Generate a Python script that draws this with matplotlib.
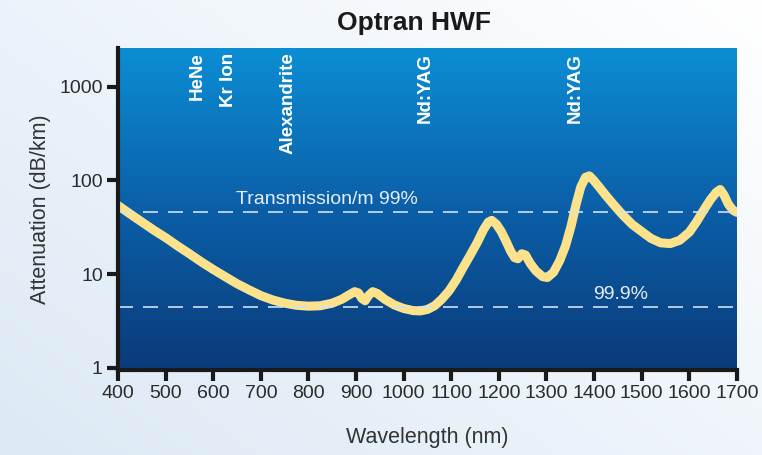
import numpy as np
import matplotlib
matplotlib.use("Agg")
import matplotlib.pyplot as plt
from matplotlib.colors import LinearSegmentedColormap

# ---- data ----
wavelength_nm = [400, 425, 450, 475, 500, 525, 550, 575, 600, 625, 650, 675, 700,
                 725, 750, 775, 800, 825, 850, 870, 885, 897, 905, 912, 919, 926,
                 935, 945, 960, 980, 1000, 1020, 1035, 1050, 1065, 1080, 1095,
                 1110, 1125, 1140, 1155, 1168, 1178, 1185, 1195, 1205, 1215, 1225,
                 1233, 1240, 1248, 1256, 1266, 1278, 1292, 1302, 1315, 1328, 1340,
                 1352, 1362, 1372, 1382, 1390, 1398, 1410, 1425, 1440, 1460, 1480,
                 1500, 1520, 1540, 1560, 1580, 1600, 1615, 1630, 1645, 1657, 1665,
                 1673, 1682, 1692, 1700]
attenuation = [54, 44, 36, 29.5, 24.5, 20, 16.5, 13.5, 11.2, 9.4, 7.9, 6.8, 5.9,
               5.3, 4.9, 4.65, 4.55, 4.6, 4.9, 5.4, 6.0, 6.5, 6.3, 5.5, 5.2, 5.9,
               6.5, 6.2, 5.4, 4.7, 4.3, 4.08, 4.05, 4.2, 4.6, 5.4, 6.6,
               8.6, 11.8, 16, 22, 30, 36, 37.5, 34, 28.5, 22.5, 17.5,
               15, 14.6, 16.5, 16, 13, 10.8, 9.4, 9.2, 10.5, 14, 20,
               33, 55, 85, 108, 112, 102, 86, 69, 56, 43, 34,
               28.5, 24, 21.6, 21.2, 23, 28, 36, 48, 63, 75, 80,
               70, 56, 48, 45.6]
x_ticks = [400, 500, 600, 700, 800, 900, 1000, 1100, 1200, 1300, 1400, 1500, 1600, 1700]
y_ticks = [1, 10, 100, 1000]
y_tick_labels = ["1", "10", "100", "1000"]
laser_names = ["HeNe", "Kr Ion", "Alexandrite", "Nd:YAG", "Nd:YAG"]
laser_nm = [566, 631, 757, 1045, 1360]
level_99 = 46
level_999 = 4.5

FONT = ["Liberation Sans", "DejaVu Sans"]
plt.rcParams['font.family'] = FONT

fig = plt.figure(figsize=(7.62, 4.55), dpi=100)

# figure background gradient
bg = fig.add_axes([0, 0, 1, 1], zorder=-10)
gx = np.linspace(0, 1, 200)
gy = np.linspace(0, 1, 200)
GX, GY = np.meshgrid(gx, gy)
g = np.clip(0.55 * GX + 0.45 * GY, 0, 1)
bg_cmap = LinearSegmentedColormap.from_list("bg", ["#dce9f5", "#ffffff"])
bg.imshow(g, cmap=bg_cmap, extent=[0, 1, 0, 1], origin="lower", aspect="auto")
bg.axis("off")

ax = fig.add_axes([0.155, 0.187, 0.812, 0.7077])
ax.set_yscale("log")
ax.set_xlim(400, 1700)
ax.set_ylim(0.95, 2600)

# axes background gradient
grad = np.linspace(0, 1, 256).reshape(-1, 1)
ax_cmap = LinearSegmentedColormap.from_list("ax", ["#0a3b7a", "#0b5fa8", "#0c8ed4"])
ax.imshow(grad, cmap=ax_cmap, extent=[0, 1, 0, 1], origin="lower",
          aspect="auto", transform=ax.transAxes, zorder=0)

ax.plot(wavelength_nm, attenuation, color="#fde28c", lw=6.5,
        solid_joinstyle="round", solid_capstyle="round", zorder=3)

for lvl in (level_99, level_999):
    ax.axhline(lvl, color="#cfe2f3", lw=1.2, dashes=(9, 6), zorder=4)

ax.text(647, level_99 * 1.10, "Transmission/m 99%", color="#e6eef7",
        fontsize=14, ha="left", va="bottom", zorder=5)
ax.text(1397, level_999 * 1.10, "99.9%", color="#e6eef7",
        fontsize=14, ha="left", va="bottom", zorder=5)

for name, nm in zip(laser_names, laser_nm):
    ax.text(nm, 0.985, name, color="white", rotation=90, fontsize=13.5,
            fontweight="bold", ha="center", va="top",
            transform=ax.get_xaxis_transform(), zorder=5)

ax.set_xticks(x_ticks)
ax.set_xticklabels([str(t) for t in x_ticks])
ax.set_yticks(y_ticks)
ax.set_yticklabels(y_tick_labels)
ax.yaxis.set_minor_locator(matplotlib.ticker.NullLocator())

for s in ("top", "right"):
    ax.spines[s].set_visible(False)
for s in ("left", "bottom"):
    ax.spines[s].set_linewidth(3)
    ax.spines[s].set_color("#1a1a1a")
    ax.spines[s].set_zorder(6)

ax.tick_params(axis="both", which="major", length=8, width=3, color="#1a1a1a",
               labelsize=14, labelcolor="#2b2b2b", pad=3)

ax.set_xlabel("Wavelength (nm)", fontsize=15.5, color="#333333", labelpad=18)
ax.set_ylabel("Attenuation (dB/km)", fontsize=15.5, color="#333333", labelpad=6)

fig.text(0.543, 0.950, "Optran HWF", ha="center", va="center", fontsize=19,
         fontweight="bold", color="#1a1a1a")

fig.savefig("out.png", dpi=100)
